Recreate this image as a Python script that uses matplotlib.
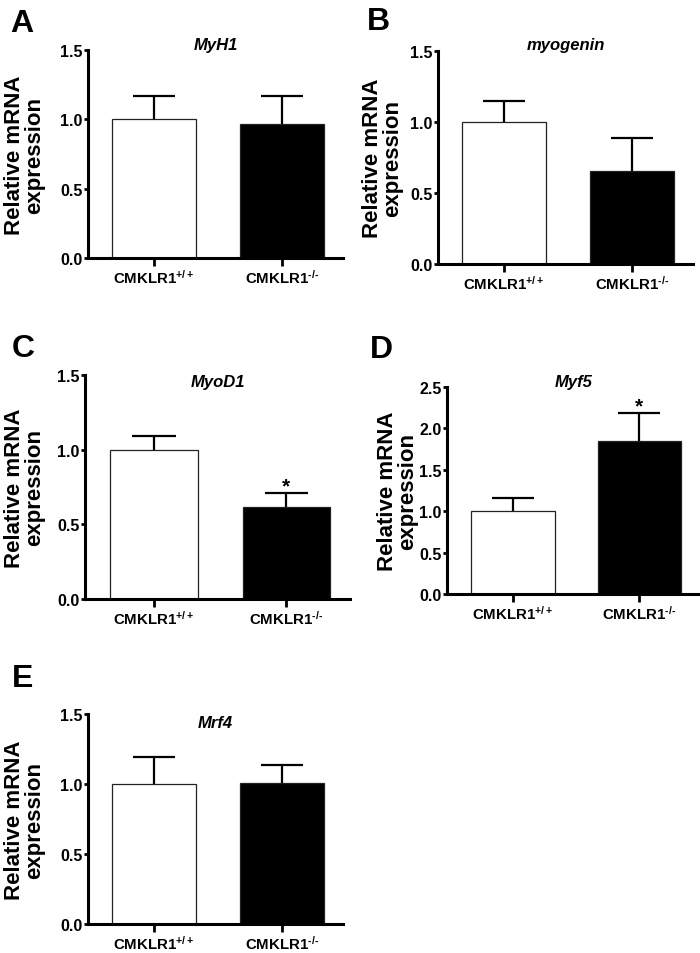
import numpy as np
import matplotlib
matplotlib.use("Agg")
import matplotlib.pyplot as plt

plt.rcParams["font.family"] = ["Liberation Sans", "DejaVu Sans"]
plt.rcParams["font.weight"] = "bold"
plt.rcParams["mathtext.fontset"] = "custom"
plt.rcParams["mathtext.rm"] = "Liberation Sans:bold"
plt.rcParams["mathtext.bf"] = "Liberation Sans:bold"

# data (relative mRNA expression, mean + SEM)
panels = ["A", "B", "C", "D", "E"]
genes = ["MyH1", "myogenin", "MyoD1", "Myf5", "Mrf4"]
groups = ["$\\mathbf{CMKLR1^{+/+}}$", "$\\mathbf{CMKLR1^{\u2010/\u2010}}$"]
mean_wt = [1.00, 1.00, 1.00, 1.00, 1.00]
mean_ko = [0.97, 0.655, 0.615, 1.845, 1.005]
sem_wt = [0.165, 0.148, 0.09, 0.16, 0.196]
sem_ko = [0.195, 0.23, 0.095, 0.345, 0.13]
signif = [False, False, True, True, False]
ymax = [1.5, 1.5, 1.5, 2.5, 1.5]

# layout (figure fractions) -- left, bottom, width, height
pos = [
    [0.1257, 0.7285, 0.3643, 0.2180],
    [0.6257, 0.7222, 0.3643, 0.2233],
    [0.1214, 0.3711, 0.3786, 0.2348],
    [0.6386, 0.3763, 0.3614, 0.2170],
    [0.1257, 0.0300, 0.3643, 0.2205],
]
letter_xy = [(10, 32), (367, 30), (12, 357), (370, 358), (12, 687)]
title_y = [1.005, 1.01, 0.95, 1.005, 0.94]
label_x = [-0.169, -0.137, -0.151, -0.115, -0.169]

W, H = 700, 954
fig = plt.figure(figsize=(W / 100, H / 100), dpi=100)

BAR_W = 0.66
CAP = 0.33

for i in range(len(genes)):
    ax = fig.add_axes(pos[i])
    x = np.arange(2)
    means = [mean_wt[i], mean_ko[i]]
    sems = [sem_wt[i], sem_ko[i]]

    # error bars (upper only)
    tops = np.array(means) + np.array(sems)
    ax.vlines(x, means, tops, color="black", lw=1.6, zorder=1)
    ax.hlines(tops, x - CAP / 2, x + CAP / 2, color="black", lw=1.6, zorder=1)

    ax.bar(x, means, width=BAR_W, color=["white", "black"],
           edgecolor="#222222", linewidth=0.9, zorder=2)

    if signif[i]:
        ax.annotate("*", xy=(1, tops[1]), xytext=(0, 1),
                    textcoords="offset points", ha="center", va="baseline",
                    fontsize=15, fontweight="bold")

    ax.set_xlim(-0.52, 1.48)
    ax.set_ylim(0, ymax[i])
    yt = np.arange(0, ymax[i] + 0.01, 0.5)
    ax.set_yticks(yt)
    ax.set_yticklabels(["%.1f" % v for v in yt])
    ax.set_xticks(x)
    ax.set_xticklabels(groups)

    for s in ["top", "right"]:
        ax.spines[s].set_visible(False)
    for s in ["left", "bottom"]:
        ax.spines[s].set_linewidth(2.2)

    ax.tick_params(axis="y", length=3, width=2, pad=1, labelsize=11.5)
    ax.tick_params(axis="x", length=6, width=2, pad=1, labelsize=10.8)
    for t in ax.get_yticklabels():
        t.set_fontweight("bold")

    ax.set_ylabel("Relative mRNA\nexpression", fontsize=16,
                  fontweight="bold", linespacing=0.95)
    ax.yaxis.set_label_coords(label_x[i], 0.5)

    ax.text(0.5, title_y[i], genes[i], transform=ax.transAxes, ha="center",
            va="baseline", fontsize=12, fontweight="bold", style="italic")

    lx, ly = letter_xy[i]
    fig.text(lx / W, 1 - ly / H, panels[i], fontsize=23, fontweight="bold",
             ha="left", va="baseline")

fig.savefig("out.png", dpi=100)
